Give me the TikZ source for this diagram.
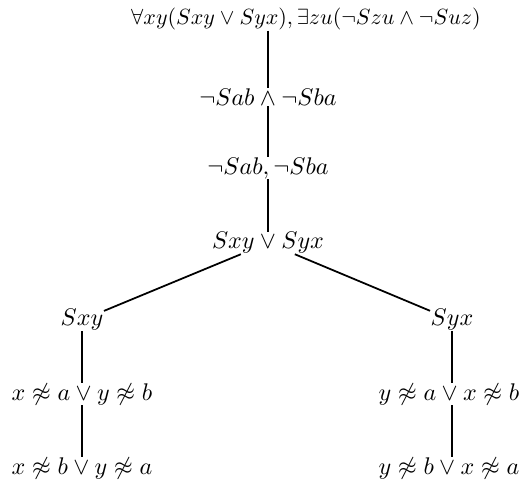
\documentclass[tikz,border=0pt]{standalone}
\usepackage{amssymb}
\begin{document}
\begin{tikzpicture}[x=0.4545pt,y=-0.4545pt,
  tnode/.style={inner sep=0.3pt, outer sep=0pt, font=\fontsize{11}{13}\selectfont},
  topnode/.style={inner sep=0.3pt, outer sep=0pt, font=\fontsize{9.6}{12}\selectfont},
  edge/.style={line width=0.8pt}]
\useasboundingbox (0,0) rectangle (524,486);
\node[topnode] (top) at (306,19) {$\forall xy(Sxy\vee Syx),\exists zu(\neg Szu\wedge\neg Suz)$};
\node[tnode] (n2) at (268,97) {$\neg Sab\wedge\neg Sba$};
\node[tnode] (n3) at (268,168) {$\neg Sab,\neg Sba$};
\node[tnode] (n4) at (268,243) {$Sxy\vee Syx$};
\node[tnode] (l1) at (82,320) {$Sxy$};
\node[tnode] (r1) at (452,320) {$Syx$};
\node[tnode] (l2) at (82,394) {$x\not\approx a\vee y\not\approx b$};
\node[tnode] (r2) at (449,394) {$y\not\approx a\vee x\not\approx b$};
\node[tnode] (l3) at (82,468) {$x\not\approx b\vee y\not\approx a$};
\node[tnode] (r3) at (449,468) {$y\not\approx b\vee x\not\approx a$};
\draw[edge] (top.south -| n2) -- (n2);
\draw[edge] (n2) -- (n3);
\draw[edge] (n3) -- (n4);
\draw[edge] (n4) -- (l1);
\draw[edge] (n4) -- (r1);
\draw[edge] (l1) -- (l2);
\draw[edge] (l2) -- (l3);
\draw[edge] (r1.south) -- (r1.south |- r2.north);
\draw[edge] (r2.south -| r1) -- (r1 |- r3.north);
\end{tikzpicture}
\end{document}
